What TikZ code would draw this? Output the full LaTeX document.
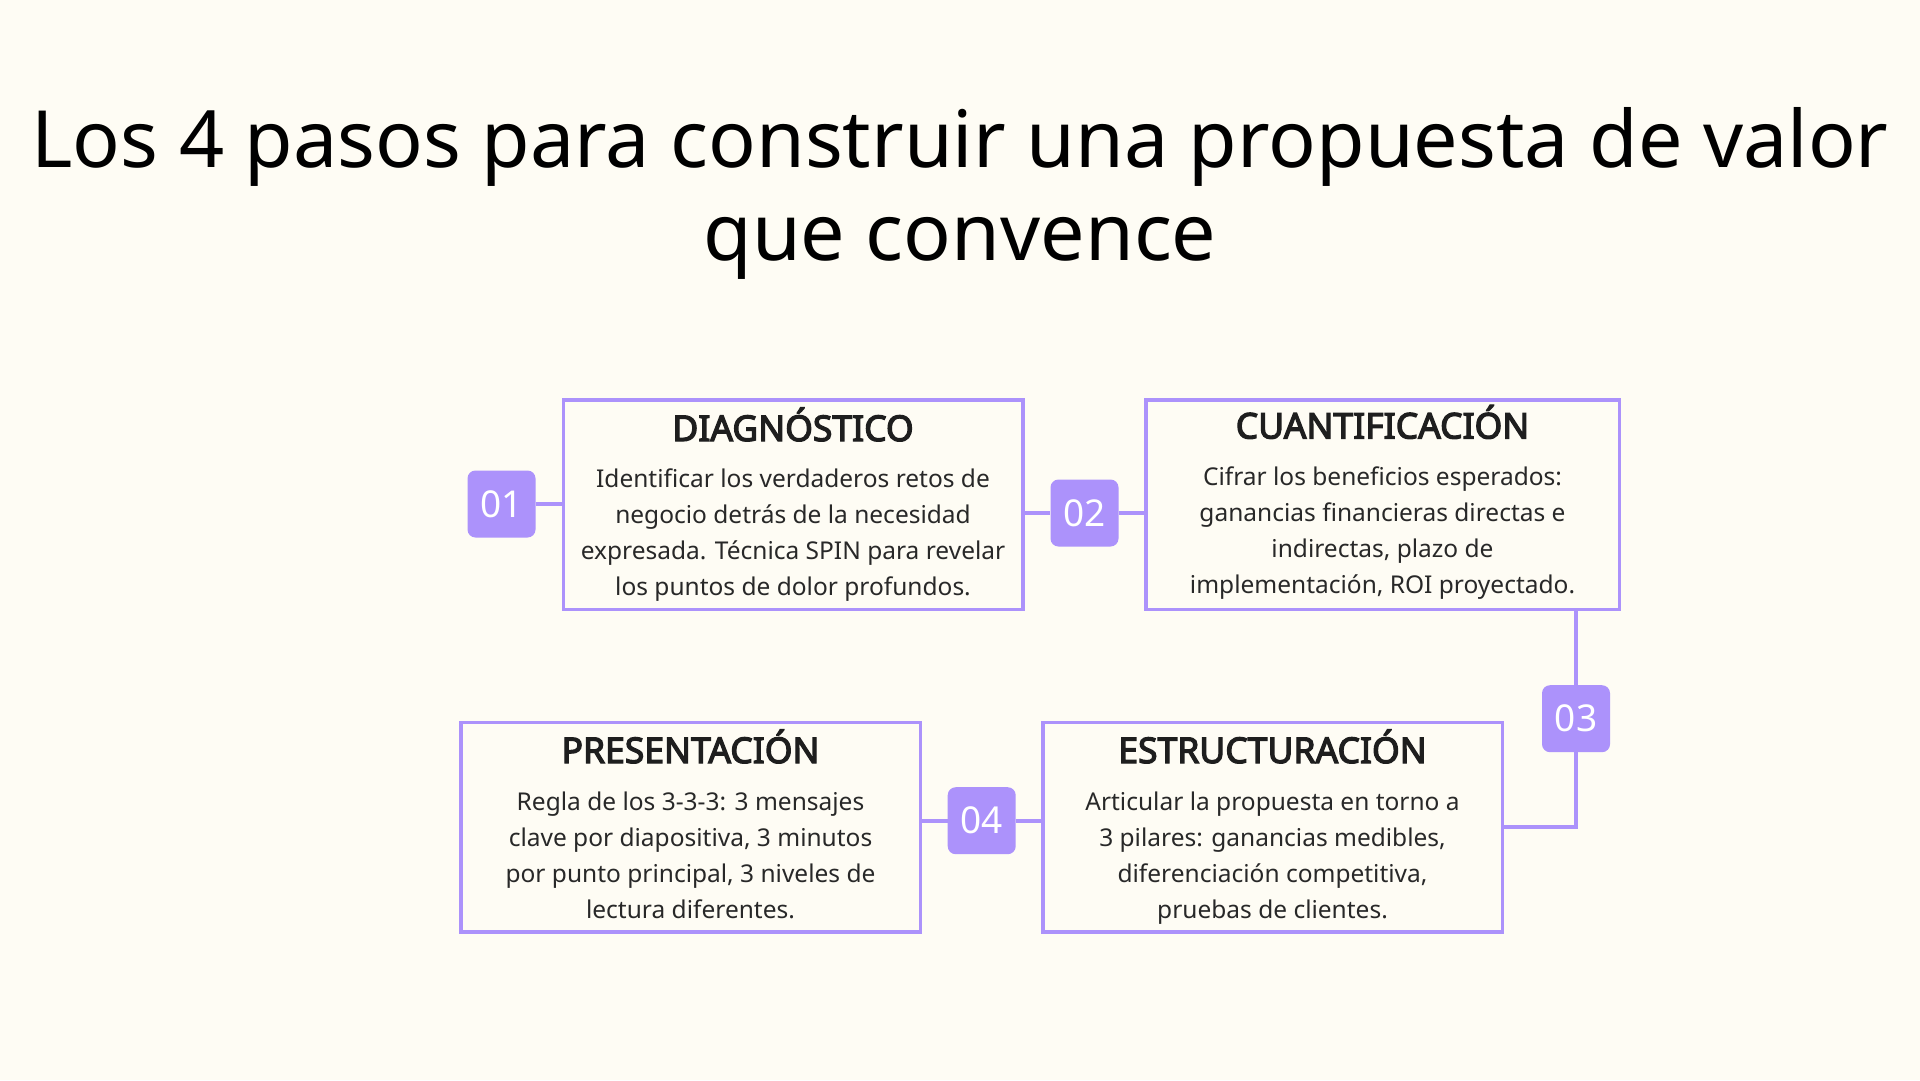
\documentclass[tikz,border=0pt]{standalone}
\usepackage{fontspec}
\setmainfont{Noto Sans}[BoldFont={Noto Sans}, BoldFeatures={FakeBold=3.5}]
\definecolor{bgc}{HTML}{FEFCF4}
\definecolor{lav}{HTML}{AC92FB}
\definecolor{headc}{HTML}{1E1E1E}
\definecolor{bodyc}{HTML}{282828}
\tikzset{
  stepbox/.style={draw=lav, line width=3.5pt, fill=bgc, inner sep=0pt, minimum height=209.5pt},
  badge/.style={fill=lav, rounded corners=8pt, minimum width=68pt, minimum height=67pt, inner sep=0pt,
    text=white, font=\fontsize{37}{40}\selectfont},
  conn/.style={draw=lav, line width=4pt},
  titletext/.style={anchor=base, inner sep=0pt, text=black, font=\fontsize{79}{93}\selectfont},
  headtext/.style={anchor=base, inner sep=0pt, text=headc, font=\fontsize{35.5}{40}\selectfont\bfseries},
  bodytext/.style={anchor=base, inner sep=0pt, text=bodyc, font=\fontsize{24.5}{36}\selectfont},
}
\begin{document}
\begin{tikzpicture}[x=1pt,y=-1pt]
\useasboundingbox (0,0) rectangle (1920,1080);
\fill[bgc] (0,0) rectangle (1920,1080);

% title
\node[titletext] (t1) at (960,167) {Los 4 pasos para construir una propuesta de valor};
\node[titletext] (t2) at (960,260) {que convence};

% boxes
\node[stepbox, minimum width=459.5pt] (box1) at (793,504.5) {};
\node[stepbox, minimum width=473.5pt] (box2) at (1382.5,504.5) {};
\node[stepbox, minimum width=459.5pt] (box3) at (1272.5,827.25) {};
\node[stepbox, minimum width=459.5pt] (box4) at (690.5,827.25) {};

% badges
\node[badge] (b01) at (501.5,504) {01};
\node[badge] (b02) at (1084.5,513) {02};
\node[badge] (b03) at (1576,718.7) {03};
\node[badge] (b04) at (981.7,820.7) {04};

% connectors
\draw[conn] (b01.east) -- (box1.west |- b01);
\draw[conn] (box1.east |- b02) -- (b02.west);
\draw[conn] (b02.east) -- (box2.west |- b02);
\draw[conn] (b03 |- box2.south) -- (b03.north);
\draw[conn] (b03.south) |- (box3.east);
\draw[conn] (box3.west |- b04) -- (b04.east);
\draw[conn] (b04.west) -- (box4.east |- b04);

% box 1
\node[headtext] (h1) at (793,441) {DIAGNÓSTICO};
\node[bodytext] (a1) at (793,487) {Identificar los verdaderos retos de};
\node[bodytext] (a2) at (793,523) {negocio detrás de la necesidad};
\node[bodytext] (a3) at (793,559) {expresada. Técnica SPIN para revelar};
\node[bodytext] (a4) at (793,595) {los puntos de dolor profundos.};

% box 2
\node[headtext] (h2) at (1382.5,438.5) {CUANTIFICACIÓN};
\node[bodytext] (c1) at (1382.5,485) {Cifrar los beneficios esperados:};
\node[bodytext] (c2) at (1382.5,521) {ganancias financieras directas e};
\node[bodytext] (c3) at (1382.5,557) {indirectas, plazo de};
\node[bodytext] (c4) at (1382.5,593) {implementación, ROI proyectado.};

% box 3
\node[headtext] (h3) at (1272.5,763) {ESTRUCTURACIÓN};
\node[bodytext] (e1) at (1272.5,810) {Articular la propuesta en torno a};
\node[bodytext] (e2) at (1272.5,846) {3 pilares: ganancias medibles,};
\node[bodytext] (e3) at (1272.5,882) {diferenciación competitiva,};
\node[bodytext] (e4) at (1272.5,918) {pruebas de clientes.};

% box 4
\node[headtext] (h4) at (690.5,763) {PRESENTACIÓN};
\node[bodytext] (p1) at (690.5,810) {Regla de los 3-3-3: 3 mensajes};
\node[bodytext] (p2) at (690.5,846) {clave por diapositiva, 3 minutos};
\node[bodytext] (p3) at (690.5,882) {por punto principal, 3 niveles de};
\node[bodytext] (p4) at (690.5,918) {lectura diferentes.};
\end{tikzpicture}
\end{document}
